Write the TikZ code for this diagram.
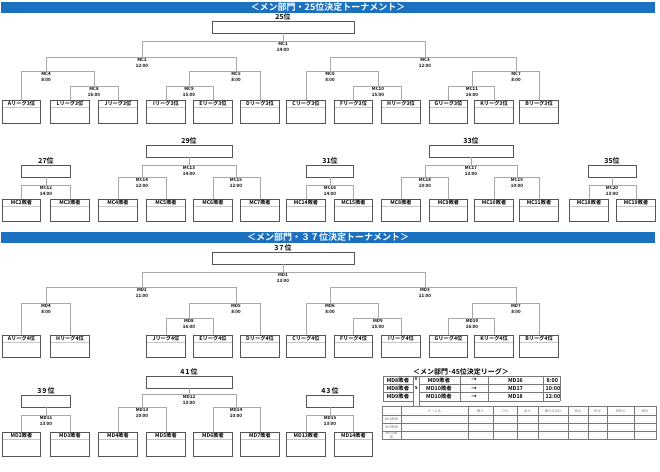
\documentclass[tikz,border=0pt]{standalone}
\usepackage{fontspec}
\setmainfont{Noto Sans CJK JP}[BoldFont={Noto Sans CJK JP Bold}]
\definecolor{barblue}{RGB}{28,112,192}
\definecolor{conngray}{RGB}{168,168,168}
\definecolor{boxline}{RGB}{85,85,85}
\definecolor{tabline}{RGB}{120,120,120}
\tikzset{
  conn/.style={draw=conngray, line width=0.9pt},
  leafbox/.style={draw=boxline, line width=0.8pt, fill=white, anchor=north,
    minimum width=38.5pt, inner sep=0pt,
    path picture={\draw[gray!45, line width=0.6pt]
      ([yshift=-7pt]path picture bounding box.north west) --
      ([yshift=-7pt]path picture bounding box.north east);}},
  leaftxt/.style={anchor=north, inner sep=0pt, yshift=-1.3pt,
    font=\bfseries\fontsize{5.2}{6}\selectfont},
  rbox/.style={draw=boxline, line width=0.8pt, fill=white, inner sep=0pt, minimum height=12pt},
  rtxt/.style={anchor=south, inner sep=0.7pt, font=\bfseries\fontsize{7}{8}\selectfont},
  mtxt/.style={anchor=north, inner sep=0pt, yshift=-1pt, align=center,
    font=\bfseries\fontsize{4.5}{6.2}\selectfont},
  hbar/.style={fill=barblue, text=white, minimum width=654pt, minimum height=11pt,
    inner sep=0pt, font=\bfseries\fontsize{9}{10}\selectfont},
  tabl/.style={draw=tabline, line width=0.5pt},
  mtab/.style={inner sep=0pt, font=\bfseries\fontsize{5.4}{6}\selectfont},
  stxt/.style={inner sep=0pt, text=gray, align=center, font=\fontsize{3.3}{3.8}\selectfont}
}
\newcommand\leaf[5]{%
  \node[leafbox, minimum height=#4pt] (#1) at (#2,#3) {};
  \node[leaftxt] (#1t) at (#1.north) {#5};}
\newcommand\match[5]{%
  \coordinate (#1) at (#2,#3);
  \node[mtxt] (#1l) at (#1) {#4\\#5};}
\newcommand\rank[5]{%
  \node[rbox, minimum width=#4pt] (#1) at (#2,#3) {};
  \node[rtxt] (#1t) at (#1.north) {#5};}
\begin{document}
\begin{tikzpicture}[x=1pt,y=-1pt]
\useasboundingbox (0,0) rectangle (660,471);
% ===== 25th place tournament =====
\node[hbar] (hdr1) at (328,7.5) {＜メン部門・25位決定トーナメント＞};
\rank{r25}{283}{27}{142}{25位}
\match{MC1}{283}{41}{MC1}{14:00}
\match{MC2}{142}{57}{MC2}{12:00}
\match{MC3}{425}{57}{MC3}{12:00}
\match{MC4}{46}{71}{MC4}{8:00}
\match{MC5}{236}{71}{MC5}{8:00}
\match{MC6}{330}{71}{MC6}{8:00}
\match{MC7}{516}{71}{MC7}{8:00}
\match{MC8}{94}{86}{MC8}{16:00}
\match{MC9}{189}{86}{MC9}{15:00}
\match{MC10}{378}{86}{MC10}{15:00}
\match{MC11}{472}{86}{MC11}{16:00}
\leaf{t0}{21.5}{100}{23}{Aリーグ3位}
\leaf{t1}{70}{100}{23}{Lリーグ3位}
\leaf{t2}{118}{100}{23}{Jリーグ3位}
\leaf{t3}{166}{100}{23}{Iリーグ3位}
\leaf{t4}{213}{100}{23}{Eリーグ3位}
\leaf{t5}{260}{100}{23}{Dリーグ3位}
\leaf{t6}{306}{100}{23}{Cリーグ3位}
\leaf{t7}{353.5}{100}{23}{Fリーグ3位}
\leaf{t8}{401}{100}{23}{Hリーグ3位}
\leaf{t9}{448.5}{100}{23}{Gリーグ3位}
\leaf{t10}{494}{100}{23}{Kリーグ3位}
\leaf{t11}{539}{100}{23}{Bリーグ3位}
\draw[conn] (r25.south) -- (MC1);
\draw[conn] (MC1) -| (MC2);  \draw[conn] (MC1) -| (MC3);
\draw[conn] (MC2) -| (MC4);  \draw[conn] (MC2) -| (MC5);
\draw[conn] (MC4) -| (t0.north); \draw[conn] (MC4) -| (MC8);
\draw[conn] (MC8) -| (t1.north); \draw[conn] (MC8) -| (t2.north);
\draw[conn] (MC5) -| (MC9); \draw[conn] (MC5) -| (t5.north);
\draw[conn] (MC9) -| (t3.north); \draw[conn] (MC9) -| (t4.north);
\draw[conn] (MC3) -| (MC6); \draw[conn] (MC3) -| (MC7);
\draw[conn] (MC6) -| (t6.north); \draw[conn] (MC6) -| (MC10);
\draw[conn] (MC10) -| (t7.north); \draw[conn] (MC10) -| (t8.north);
\draw[conn] (MC7) -| (MC11); \draw[conn] (MC7) -| (t11.north);
\draw[conn] (MC11) -| (t9.north); \draw[conn] (MC11) -| (t10.north);
% ===== lower places (MC) =====
\rank{r27}{46}{171}{49}{27位}
\rank{r29}{189}{151}{86}{29位}
\rank{r31}{330}{171}{47}{31位}
\rank{r33}{471}{151}{84}{33位}
\rank{r35}{612}{171}{48}{35位}
\match{MC12}{46}{185}{MC12}{14:00}
\match{MC13}{189}{165}{MC13}{14:00}
\match{MC14}{142}{177}{MC14}{12:00}
\match{MC15}{236}{177}{MC15}{12:00}
\match{MC16}{330}{185}{MC16}{14:00}
\match{MC17}{471}{165}{MC17}{13:00}
\match{MC18}{425}{177}{MC18}{10:00}
\match{MC19}{517}{177}{MC19}{10:00}
\match{MC20}{612}{185}{MC20}{13:00}
\leaf{m0}{21.5}{199}{22}{MC2敗者}
\leaf{m1}{70}{199}{22}{MC3敗者}
\leaf{m2}{118}{199}{22}{MC4敗者}
\leaf{m3}{166}{199}{22}{MC5敗者}
\leaf{m4}{213}{199}{22}{MC6敗者}
\leaf{m5}{260}{199}{22}{MC7敗者}
\leaf{m6}{306}{199}{22}{MC14敗者}
\leaf{m7}{353.5}{199}{22}{MC15敗者}
\leaf{m8}{401}{199}{22}{MC8敗者}
\leaf{m9}{448.5}{199}{22}{MC9敗者}
\leaf{m10}{494}{199}{22}{MC10敗者}
\leaf{m11}{539}{199}{22}{MC11敗者}
\leaf{m12}{589}{199}{22}{MC18敗者}
\leaf{m13}{636}{199}{22}{MC19敗者}
\draw[conn] (r27.south) -- (MC12);
\draw[conn] (MC12) -| (m0.north); \draw[conn] (MC12) -| (m1.north);
\draw[conn] (r29.south) -- (MC13);
\draw[conn] (MC13) -| (MC14); \draw[conn] (MC13) -| (MC15);
\draw[conn] (MC14) -| (m2.north); \draw[conn] (MC14) -| (m3.north);
\draw[conn] (MC15) -| (m4.north); \draw[conn] (MC15) -| (m5.north);
\draw[conn] (r31.south) -- (MC16);
\draw[conn] (MC16) -| (m6.north); \draw[conn] (MC16) -| (m7.north);
\draw[conn] (r33.south) -- (MC17);
\draw[conn] (MC17) -| (MC18); \draw[conn] (MC17) -| (MC19);
\draw[conn] (MC18) -| (m8.north); \draw[conn] (MC18) -| (m9.north);
\draw[conn] (MC19) -| (m10.north); \draw[conn] (MC19) -| (m11.north);
\draw[conn] (r35.south) -- (MC20);
\draw[conn] (MC20) -| (m12.north); \draw[conn] (MC20) -| (m13.north);
% ===== 37th place tournament =====
\node[hbar] (hdr2) at (328,237.5) {＜メン部門・３７位決定トーナメント＞};
\rank{r37}{283}{258}{142}{3\hspace{1pt}7\hspace{1pt}位}
\match{MD1}{283}{272}{MD1}{13:00}
\match{MD2}{142}{287}{MD2}{11:00}
\match{MD3}{425}{287}{MD3}{11:00}
\match{MD4}{46}{303}{MD4}{8:00}
\match{MD5}{236}{303}{MD5}{8:00}
\match{MD6}{330}{303}{MD6}{8:00}
\match{MD7}{516}{303}{MD7}{8:00}
\match{MD8}{189}{318}{MD8}{16:00}
\match{MD9}{378}{318}{MD9}{15:00}
\match{MD10}{472}{318}{MD10}{16:00}
\leaf{b0}{21.5}{335}{22}{Aリーグ4位}
\leaf{b1}{70}{335}{22}{Hリーグ4位}
\leaf{b3}{166}{335}{22}{Jリーグ4位}
\leaf{b4}{213}{335}{22}{Eリーグ4位}
\leaf{b5}{260}{335}{22}{Dリーグ4位}
\leaf{b6}{306}{335}{22}{Cリーグ4位}
\leaf{b7}{353.5}{335}{22}{Fリーグ4位}
\leaf{b8}{401}{335}{22}{Iリーグ4位}
\leaf{b9}{448.5}{335}{22}{Gリーグ4位}
\leaf{b10}{494}{335}{22}{Kリーグ4位}
\leaf{b11}{539}{335}{22}{Bリーグ4位}
\draw[conn] (r37.south) -- (MD1);
\draw[conn] (MD1) -| (MD2); \draw[conn] (MD1) -| (MD3);
\draw[conn] (MD2) -| (MD4); \draw[conn] (MD2) -| (MD5);
\draw[conn] (MD4) -| (b0.north); \draw[conn] (MD4) -| (b1.north);
\draw[conn] (MD5) -| (MD8); \draw[conn] (MD5) -| (b5.north);
\draw[conn] (MD8) -| (b3.north); \draw[conn] (MD8) -| (b4.north);
\draw[conn] (MD3) -| (MD6); \draw[conn] (MD3) -| (MD7);
\draw[conn] (MD6) -| (b6.north); \draw[conn] (MD6) -| (MD9);
\draw[conn] (MD9) -| (b7.north); \draw[conn] (MD9) -| (b8.north);
\draw[conn] (MD7) -| (MD10); \draw[conn] (MD7) -| (b11.north);
\draw[conn] (MD10) -| (b9.north); \draw[conn] (MD10) -| (b10.north);
% ===== lower places (MD) =====
\rank{r39}{46}{401}{49}{3\hspace{1pt}9\hspace{1pt}位}
\rank{r41}{189}{382}{86}{4\hspace{1pt}1\hspace{1pt}位}
\rank{r43}{330}{401}{47}{4\hspace{1pt}3\hspace{1pt}位}
\match{MD11}{46}{415}{MD11}{13:00}
\match{MD12}{189}{394}{MD12}{13:00}
\match{MD13}{142}{407}{MD13}{10:00}
\match{MD14}{236}{407}{MD14}{10:00}
\match{MD15}{330}{415}{MD15}{13:00}
\leaf{n0}{21.5}{432}{24}{MD2敗者}
\leaf{n1}{70}{432}{24}{MD3敗者}
\leaf{n2}{118}{432}{24}{MD4敗者}
\leaf{n3}{166}{432}{24}{MD5敗者}
\leaf{n4}{213}{432}{24}{MD6敗者}
\leaf{n5}{260}{432}{24}{MD7敗者}
\leaf{n6}{306}{432}{24}{MD13敗者}
\leaf{n7}{353.5}{432}{24}{MD14敗者}
\draw[conn] (r39.south) -- (MD11);
\draw[conn] (MD11) -| (n0.north); \draw[conn] (MD11) -| (n1.north);
\draw[conn] (r41.south) -- (MD12);
\draw[conn] (MD12) -| (MD13); \draw[conn] (MD12) -| (MD14);
\draw[conn] (MD13) -| (n2.north); \draw[conn] (MD13) -| (n3.north);
\draw[conn] (MD14) -| (n4.north); \draw[conn] (MD14) -| (n5.north);
\draw[conn] (r43.south) -- (MD15);
\draw[conn] (MD15) -| (n6.north); \draw[conn] (MD15) -| (n7.north);
% ===== 45th place league =====
\node[inner sep=0pt, font=\bfseries\fontsize{7}{8}\selectfont] (lgtitle) at (461,371.5) {＜メン部門･45位決定リーグ＞};
% match table
\draw[tabl] (383,376) -- (560,376) (560,376) -- (560,401) (383,376) -- (383,401);
\foreach \yy in {384.3,392.6} \draw[tabl] (383,\yy) -- (413,\yy) (419.5,\yy) -- (560,\yy);
\draw[tabl] (383,401) -- (413,401) (419.5,401) -- (560,401);
\foreach \xx in {460,488,543} \draw[tabl] (\xx,376) -- (\xx,401);
\foreach \xx in {413,419.5} \draw[tabl] (\xx,376) -- (\xx,406.5);
\node[mtab] (g1a) at (398,380.2) {MD8敗者};
\node[mtab] (g2a) at (398,388.5) {MD8敗者};
\node[mtab] (g3a) at (398,396.8) {MD9敗者};
\node[mtab] (g1b) at (439,380.2) {MD9敗者};
\node[mtab] (g2b) at (439,388.5) {MD10敗者};
\node[mtab] (g3b) at (439,396.8) {MD10敗者};
\node[mtab] (g1c) at (474,380.2) {→};
\node[mtab] (g2c) at (474,388.5) {→};
\node[mtab] (g3c) at (474,396.8) {→};
\node[mtab] (g1d) at (515.5,380.2) {MD16};
\node[mtab] (g2d) at (515.5,388.5) {MD17};
\node[mtab] (g3d) at (515.5,396.8) {MD18};
\node[mtab, anchor=west] (g1e) at (546.5,380.2) {8:00};
\node[mtab, anchor=west] (g2e) at (545.5,388.5) {10:00};
\node[mtab, anchor=west] (g3e) at (545.5,396.8) {12:00};
\node[mtab, font=\bfseries\fontsize{4.3}{5}\selectfont] (vs1) at (416.2,379) {V};
\node[mtab, font=\bfseries\fontsize{4.3}{5}\selectfont] (vs2) at (416.2,388) {S};
% standings table
\draw[tabl] (382,406.5) rectangle (656,439);
\foreach \yy in {415,423,431} \draw[tabl] (382,\yy) -- (656,\yy);
\foreach \xx in {401,468,493,517,538,568,588,607,634} \draw[tabl] (\xx,406.5) -- (\xx,439);
\node[stxt] (h1) at (434.5,410.8) {チーム名};
\node[stxt] (h2) at (480.5,410.8) {勝ち};
\node[stxt] (h3) at (505,410.8) {引分};
\node[stxt] (h4) at (527.5,410.8) {負け};
\node[stxt] (h5) at (553,410.8) {勝ち点合計};
\node[stxt] (h6) at (578,410.8) {得点};
\node[stxt] (h7) at (597.5,410.8) {失点};
\node[stxt] (h8) at (620.5,410.8) {得失点};
\node[stxt] (h9) at (645,410.8) {順位};
\node[stxt] (s1) at (391.5,419) {MD8敗者};
\node[stxt] (s2) at (391.5,427) {MD9敗者};
\node[stxt] (s3) at (391.5,435) {MD10敗\\者};
\end{tikzpicture}
\end{document}
